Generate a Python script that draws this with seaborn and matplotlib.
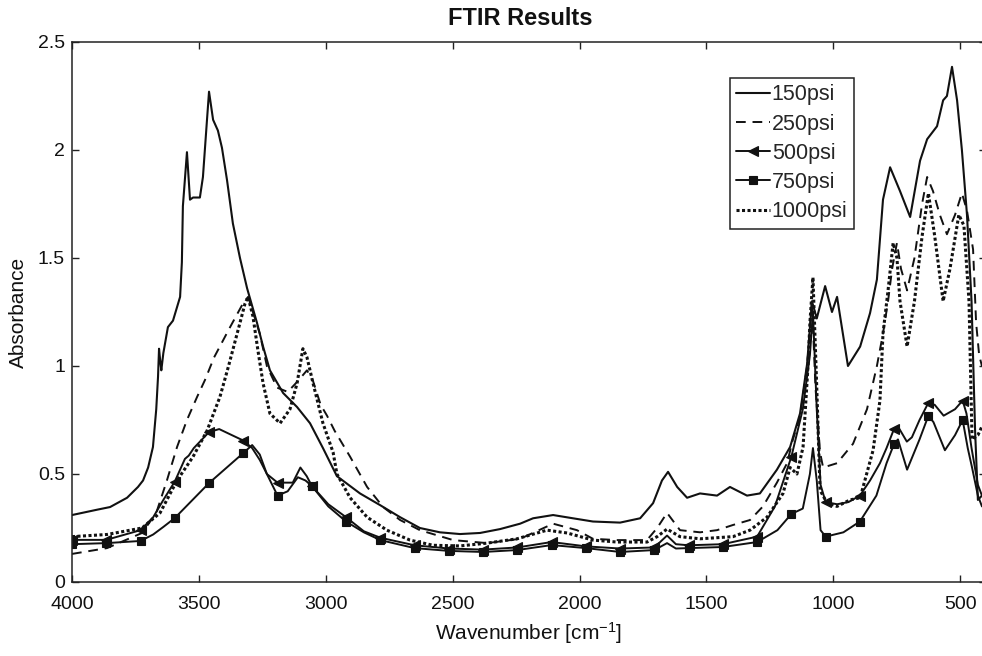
import matplotlib
matplotlib.use("Agg")
import matplotlib.pyplot as plt
import pandas as pd
import seaborn as sns

# ---------------- data ----------------
wn_150 = [4000, 3900, 3850, 3783, 3740, 3720, 3700, 3681, 3668, 3661,
          3657, 3652, 3648, 3640, 3622, 3602, 3574, 3567, 3563, 3547,
          3535, 3523, 3496, 3484, 3468, 3460, 3444, 3425, 3409, 3389,
          3366, 3338, 3310, 3271, 3247, 3220, 3168, 3113, 3062, 3011,
          2956, 2865, 2786, 2707, 2629, 2550, 2471, 2392, 2313, 2234,
          2183, 2104, 2026, 1947, 1840, 1761, 1710, 1675, 1651, 1615,
          1576, 1525, 1458, 1407, 1340, 1289, 1222, 1170, 1131, 1103,
          1084, 1065, 1032, 1005, 985, 942, 894, 855, 828,
          804, 776, 737, 697, 658, 630, 591, 567, 552, 532,
          512, 493, 473, 455, 441, 430, 414]
abs_150 = [0.31, 0.335, 0.347, 0.39, 0.44, 0.47, 0.53, 0.625, 0.80, 0.95,
           1.08, 1.02, 0.98, 1.06, 1.18, 1.21, 1.32, 1.48, 1.74, 1.99,
           1.77, 1.78, 1.78, 1.875, 2.14, 2.27, 2.14, 2.09, 2.01, 1.86,
           1.66, 1.50, 1.36, 1.20, 1.09, 0.98, 0.875, 0.81, 0.735, 0.62,
           0.49, 0.41, 0.356, 0.30, 0.25, 0.23, 0.222, 0.227, 0.245, 0.27,
           0.295, 0.31, 0.295, 0.28, 0.275, 0.295, 0.365, 0.47, 0.51, 0.44,
           0.39, 0.41, 0.40, 0.44, 0.40, 0.41, 0.52, 0.625, 0.78, 1.01,
           1.30, 1.22, 1.37, 1.25, 1.32, 1.0, 1.09, 1.245, 1.40,
           1.77, 1.92, 1.81, 1.69, 1.95, 2.05, 2.11, 2.23, 2.25, 2.385,
           2.23, 2.0, 1.70, 1.30, 0.70, 0.38, 0.40]

wn_250 = [4000, 3862, 3724, 3668, 3626, 3586, 3547, 3507, 3476, 3440,
          3377, 3326, 3306, 3260, 3232, 3192, 3150, 3110, 3074, 3050,
          3020, 2995, 2965, 2904, 2837, 2774, 2707, 2629, 2498, 2364,
          2234, 2104, 2010, 1947, 1852, 1734, 1694, 1655, 1604, 1525,
          1458, 1395, 1328, 1277, 1222, 1182, 1159, 1131, 1103, 1092,
          1084, 1070, 1052, 1040, 985, 922, 867, 828, 804, 784,
          768, 749, 733, 709, 680, 650, 630, 607, 580, 552,
          520, 493, 473, 449, 437, 425, 414]
abs_250 = [0.13, 0.157, 0.227, 0.32, 0.47, 0.625, 0.75, 0.857, 0.935, 1.04,
           1.18, 1.29, 1.32, 1.15, 1.0, 0.90, 0.88, 0.93, 0.98, 0.93,
           0.82, 0.77, 0.70, 0.58, 0.44, 0.347, 0.287, 0.24, 0.194, 0.18,
           0.20, 0.27, 0.24, 0.20, 0.194, 0.194, 0.25, 0.32, 0.24, 0.23,
           0.24, 0.264, 0.287, 0.35, 0.46, 0.55, 0.66, 0.765, 1.0, 1.17,
           1.30, 0.9, 0.6, 0.53, 0.55, 0.64, 0.80, 1.0, 1.15, 1.3,
           1.45, 1.57, 1.45, 1.35, 1.5, 1.75, 1.875, 1.81, 1.7, 1.61,
           1.7, 1.80, 1.72, 1.54, 1.2, 1.05, 1.0]

wn_500 = [4000, 3865, 3730, 3680, 3640, 3595, 3555, 3540, 3520, 3460,
          3420, 3370, 3325, 3290, 3260, 3232, 3190, 3130, 3100, 3075,
          3055, 2990, 2920, 2850, 2785, 2650, 2515, 2380, 2245, 2110,
          1975, 1840, 1705, 1655, 1620, 1570, 1435, 1300, 1230, 1165,
          1120, 1092, 1080, 1065, 1050, 1030, 985, 940, 895, 855,
          816, 790, 760, 745, 710, 690, 660, 625, 600, 565,
          520, 490, 475, 455, 430, 414]
abs_500 = [0.195, 0.195, 0.24, 0.30, 0.38, 0.465, 0.57, 0.585, 0.62, 0.694,
           0.708, 0.68, 0.655, 0.62, 0.565, 0.50, 0.46, 0.46, 0.53, 0.49,
           0.445, 0.36, 0.30, 0.235, 0.205, 0.17, 0.155, 0.15, 0.16, 0.185,
           0.165, 0.155, 0.16, 0.215, 0.175, 0.17, 0.175, 0.21, 0.35, 0.58,
           0.80, 1.05, 1.25, 0.8, 0.45, 0.37, 0.36, 0.37, 0.40, 0.47,
           0.55, 0.62, 0.71, 0.72, 0.65, 0.67, 0.75, 0.83, 0.82, 0.77,
           0.80, 0.84, 0.78, 0.62, 0.45, 0.40]

wn_750 = [4000, 3865, 3730, 3680, 3640, 3595, 3460, 3325, 3290, 3260,
          3232, 3190, 3150, 3110, 3080, 3055, 2990, 2920, 2850, 2785,
          2650, 2515, 2380, 2245, 2110, 1975, 1840, 1705, 1655, 1620,
          1570, 1435, 1300, 1220, 1165, 1120, 1092, 1080, 1065, 1050,
          1030, 960, 895, 830, 790, 760, 745, 709, 660, 625,
          605, 560, 520, 490, 470, 453, 430, 414]
abs_750 = [0.175, 0.18, 0.19, 0.22, 0.255, 0.296, 0.458, 0.597, 0.634, 0.59,
           0.50, 0.40, 0.42, 0.485, 0.47, 0.445, 0.35, 0.28, 0.23, 0.194,
           0.157, 0.144, 0.139, 0.148, 0.171, 0.157, 0.139, 0.148, 0.18, 0.155,
           0.157, 0.162, 0.185, 0.24, 0.315, 0.34, 0.50, 0.62, 0.47, 0.24,
           0.21, 0.23, 0.28, 0.40, 0.55, 0.64, 0.66, 0.52, 0.66, 0.77,
           0.74, 0.61, 0.68, 0.75, 0.62, 0.53, 0.40, 0.35]

wn_1000 = [4000, 3862, 3724, 3653, 3586, 3523, 3468, 3417, 3383, 3338,
           3318, 3306, 3287, 3267, 3247, 3220, 3180, 3141, 3113, 3090,
           3074, 3050, 3011, 2971, 2956, 2904, 2837, 2759, 2668, 2577,
           2471, 2364, 2246, 2128, 2049, 1947, 1852, 1734, 1694, 1655,
           1604, 1525, 1395, 1328, 1261, 1198, 1170, 1143, 1119, 1099,
           1092, 1080, 1065, 1052, 1024, 985, 934, 894, 843, 816,
           804, 784, 764, 749, 737, 709, 680, 650, 625, 600,
           567, 540, 505, 485, 465, 453, 430, 414]
abs_1000 = [0.21, 0.22, 0.25, 0.32, 0.47, 0.58, 0.70, 0.857, 1.0, 1.2,
            1.29, 1.32, 1.23, 1.07, 0.92, 0.78, 0.735, 0.80, 0.92, 1.08,
            1.04, 0.92, 0.735, 0.60, 0.50, 0.39, 0.30, 0.24, 0.194, 0.17,
            0.167, 0.18, 0.20, 0.24, 0.227, 0.194, 0.185, 0.185, 0.21, 0.245,
            0.21, 0.20, 0.21, 0.24, 0.30, 0.41, 0.53, 0.50, 0.625, 1.01,
            1.2, 1.41, 0.9, 0.425, 0.365, 0.35, 0.38, 0.39, 0.61, 0.84,
            1.15, 1.35, 1.57, 1.5, 1.3, 1.09, 1.3, 1.6, 1.80, 1.6,
            1.30, 1.45, 1.70, 1.65, 1.3, 0.66, 0.68, 0.72]

labels = ["150psi", "250psi", "500psi", "750psi", "1000psi"]
x_ticks = [4000, 3500, 3000, 2500, 2000, 1500, 1000, 500]
y_ticks = [0, 0.5, 1, 1.5, 2, 2.5]

series = [
    (labels[0], wn_150, abs_150),
    (labels[1], wn_250, abs_250),
    (labels[2], wn_500, abs_500),
    (labels[3], wn_750, abs_750),
    (labels[4], wn_1000, abs_1000),
]

# ---------------- styling ----------------
sns.set_style("ticks")
plt.rcParams["font.family"] = ["Liberation Sans", "DejaVu Sans"]
plt.rcParams["mathtext.fontset"] = "custom"
plt.rcParams["mathtext.rm"] = "Liberation Sans"
plt.rcParams["mathtext.default"] = "regular"

INK = "#111111"
styles = {
    "150psi": dict(linestyle="-", linewidth=1.5),
    "250psi": dict(linestyle=(0, (5, 3.5)), linewidth=1.4),
    "500psi": dict(linestyle="-", linewidth=1.4, marker="<", markersize=6.5),
    "750psi": dict(linestyle="-", linewidth=1.4, marker="s", markersize=5.5),
    "1000psi": dict(linestyle=(0, (1, 0.8)), linewidth=2.2),
}

W, H = 982, 656
fig = plt.figure(figsize=(W / 100, H / 100), dpi=100)
ax = fig.add_axes([72 / W, 74 / H, 913.5 / W, 540 / H])

for label, wn, ab in series:
    df = pd.DataFrame({"Wavenumber": wn, "Absorbance": ab})
    kw = dict(styles[label])
    if "marker" in kw:
        kw["markevery"] = [i for i, w in enumerate(wn) if (4000 - w) % 135 == 0]
        kw["markeredgecolor"] = INK
        kw["markerfacecolor"] = INK
        kw["markeredgewidth"] = 0.8
    sns.lineplot(data=df, x="Wavenumber", y="Absorbance", ax=ax, sort=False,
                 estimator=None, label=label, color=INK, **kw)

ax.set_xlim(4000, 400)
ax.set_ylim(0, 2.5)
ax.set_xticks(x_ticks)
ax.set_xticklabels([str(t) for t in x_ticks])
ax.set_yticks(y_ticks)
ax.set_yticklabels([f"{t:g}" for t in y_ticks])
ax.tick_params(direction="in", top=True, right=True, length=5, width=1.0,
               labelsize=14, color="#222222", labelcolor=INK, pad=5)
ax.tick_params(axis="x", pad=10)
for sp in ax.spines.values():
    sp.set_linewidth(1.1)
    sp.set_color("#222222")

ax.set_xlabel("Wavenumber [cm$^{-1}$]", fontsize=15, color=INK, labelpad=5)
ax.set_ylabel("Absorbance", fontsize=15, color=INK, labelpad=7)
ax.set_title("FTIR Results", fontsize=17, fontweight="bold", color=INK,
             pad=12, x=(520 - 72) / 913.5)

leg = ax.legend(loc="upper right", bbox_to_anchor=(854 / W, 1 - 78 / H),
                bbox_transform=fig.transFigure, frameon=True, fancybox=False,
                edgecolor="#222222", framealpha=1, fontsize=15.5,
                handlelength=1.55, handletextpad=0.1, labelspacing=0.38,
                borderpad=0.3, borderaxespad=0)
leg.get_frame().set_linewidth(1.1)

fig.savefig("out.png", dpi=100)
